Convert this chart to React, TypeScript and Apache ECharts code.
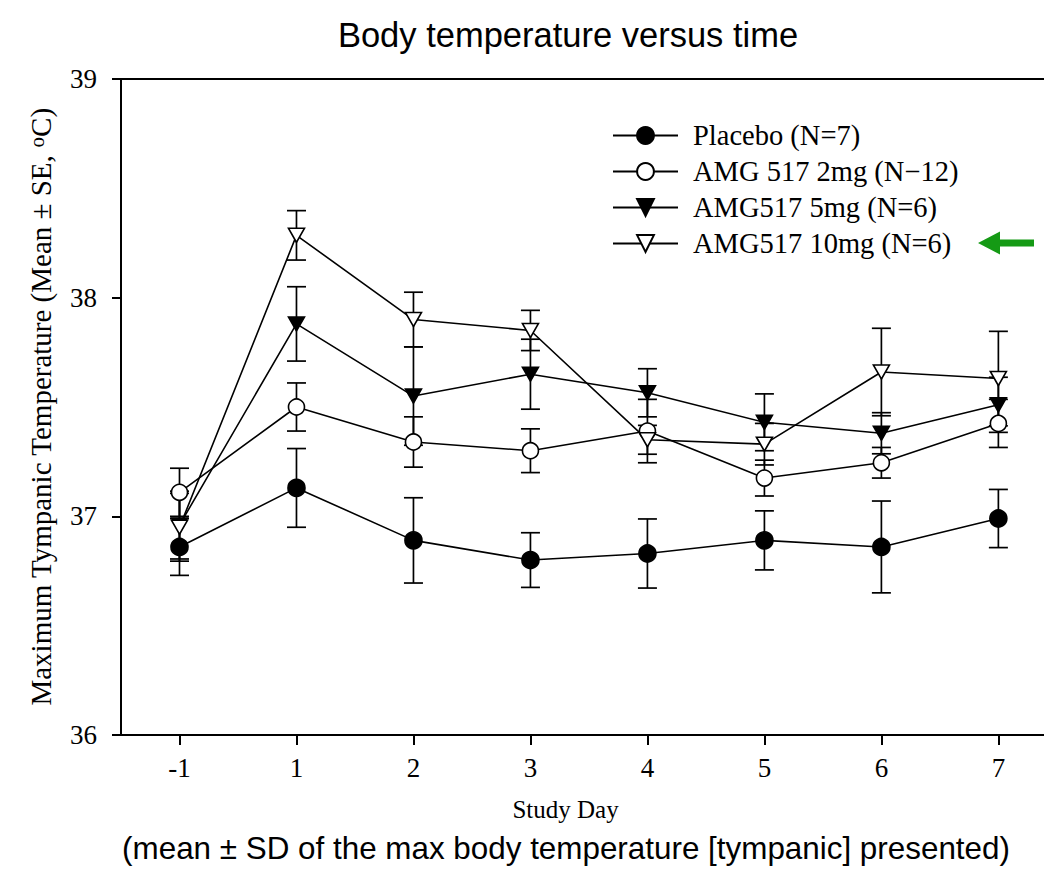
import React, { useEffect, useRef } from "react";
import * as echarts from "echarts";

const days = ["-1", "1", "2", "3", "4", "5", "6", "7"];
const yTicks = [36, 37, 38, 39];

const seriesNames = [
  "Placebo (N=7)",
  "AMG 517 2mg (N\u221212)",
  "AMG517 5mg (N=6)",
  "AMG517 10mg (N=6)",
];

const placebo = [36.86, 37.13, 36.89, 36.8, 36.83, 36.89, 36.86, 36.99];
const placeboSE = [0.13, 0.18, 0.195, 0.125, 0.158, 0.135, 0.21, 0.133];

const amg2 = [37.11, 37.5, 37.34, 37.3, 37.39, 37.175, 37.245, 37.425];
const amg2SE = [0.11, 0.11, 0.115, 0.1, 0.145, 0.082, 0.07, 0.11];

const amg5 = [36.96, 37.88, 37.55, 37.65, 37.565, 37.43, 37.38, 37.51];
const amg5SE = [0.155, 0.17, 0.225, 0.16, 0.11, 0.13, 0.094, 0.126];

const amg10 = [36.95, 38.285, 37.9, 37.85, 37.35, 37.33, 37.66, 37.63];
const amg10SE = [0.155, 0.113, 0.125, 0.092, 0.066, 0.095, 0.2, 0.216];

const SERIF = "'Liberation Serif', 'Times New Roman', serif";
const SANS = "'Liberation Sans', Arial, sans-serif";

export default function App() {
  const ref = useRef<HTMLDivElement>(null);

  useEffect(() => {
    if (!ref.current) return;
    const chart = echarts.init(ref.current, null, { renderer: "svg" });

    const means = [placebo, amg2, amg5, amg10];
    const ses = [placeboSE, amg2SE, amg5SE, amg10SE];
    const symbols = ["circle", "circle", "triangle", "triangle"];
    const fills = ["#000", "#fff", "#000", "#fff"];
    const rotates = [0, 0, 180, 180];
    const sizes: any[] = [17, 16, [16, 14], [16, 14]];

    const series: any[] = [];
    means.forEach((m, k) => {
      series.push({
        type: "custom",
        name: seriesNames[k] + " SE",
        xAxisIndex: 0,
        yAxisIndex: 0,
        data: m.map((v, i) => [i, v - ses[k][i], v + ses[k][i]]),
        encode: { x: 0, y: [1, 2] },
        silent: true,
        clip: false,
        renderItem: (params: any, api: any) => {
          const x = api.value(0);
          const lo = api.coord([x, api.value(1)]);
          const hi = api.coord([x, api.value(2)]);
          const w = 9.5;
          const st = { stroke: "#000", lineWidth: 1.7 };
          return {
            type: "group",
            children: [
              { type: "line", shape: { x1: lo[0], y1: lo[1], x2: hi[0], y2: hi[1] }, style: st },
              { type: "line", shape: { x1: lo[0] - w, y1: lo[1], x2: lo[0] + w, y2: lo[1] }, style: st },
              { type: "line", shape: { x1: hi[0] - w, y1: hi[1], x2: hi[0] + w, y2: hi[1] }, style: st },
            ],
          };
        },
      });
      series.push({
        type: "line",
        name: seriesNames[k],
        xAxisIndex: 0,
        yAxisIndex: 0,
        data: m.map((v, i) => [i, v]),
        symbol: symbols[k],
        symbolSize: sizes[k],
        symbolRotate: rotates[k],
        showAllSymbol: true,
        lineStyle: { color: "#000", width: 1.6 },
        itemStyle: { color: fills[k], borderColor: "#000", borderWidth: 1.6 },
        emphasis: { disabled: true },
      });
    });

    chart.setOption({
      animation: false,
      grid: { left: 121, right: 0, top: 79, bottom: 147, containLabel: false },
      legend: {
        data: seriesNames,
        orient: "vertical",
        left: 612,
        top: 121,
        padding: 0,
        itemWidth: 65,
        itemHeight: 21,
        itemGap: 7,
        selectedMode: false,
        textStyle: {
          fontFamily: SERIF,
          fontSize: 28.5,
          color: "#000",
          padding: [0, 0, 0, 10],
        },
      },
      xAxis: [
        {
          type: "value",
          min: -0.5,
          max: 7.39,
          name: "Study Day",
          nameLocation: "middle",
          nameGap: 62,
          nameTextStyle: { fontFamily: SERIF, fontSize: 25, color: "#000", padding: [0, 34, 0, 0] },
          axisLine: { show: true, onZero: false, lineStyle: { color: "#000", width: 2 } },
          axisTick: {
            show: true,
            length: 10,
            customValues: days.map((_, i) => i),
            lineStyle: { color: "#000", width: 2 },
          },
          axisLabel: {
            customValues: days.map((_, i) => i),
            formatter: (v: number) => days[Math.round(v)] ?? "",
            fontFamily: SERIF,
            fontSize: 27,
            color: "#000",
            margin: 19,
          },
          splitLine: { show: false },
        },
        {
          type: "value",
          position: "top",
          min: -0.5,
          max: 7.39,
          axisLine: { show: true, onZero: false, lineStyle: { color: "#000", width: 2 } },
          axisTick: { show: false },
          axisLabel: { show: false },
          splitLine: { show: false },
        },
      ],
      yAxis: {
        type: "value",
        min: 36,
        max: 39,
        interval: 1,
        name: "Maximum Tympanic Temperature (Mean \u00B1 SE, {sup|o}C)",
        nameLocation: "middle",
        nameGap: 66,
        nameTextStyle: {
          fontFamily: SERIF,
          fontSize: 29,
          color: "#000",
          rich: {
            sup: { fontFamily: SERIF, fontSize: 21, color: "#000", verticalAlign: "top", lineHeight: 18 },
          },
        },
        axisLine: { show: true, onZero: false, lineStyle: { color: "#000", width: 2 } },
        axisTick: { show: true, length: 9, lineStyle: { color: "#000", width: 2 } },
        axisLabel: {
          formatter: (v: number) => (yTicks.includes(v) ? String(v) : ""),
          fontFamily: SERIF,
          fontSize: 27,
          color: "#000",
          margin: 24,
        },
        splitLine: { show: false },
      },
      graphic: [
        {
          type: "text",
          x: 568,
          y: 35,
          style: {
            text: "Body temperature versus time",
            font: "34.5px " + SANS,
            fill: "#000",
            textAlign: "center",
            textVerticalAlign: "middle",
          },
        },
        {
          type: "text",
          x: 566,
          y: 848,
          style: {
            text: "(mean \u00B1 SD of the max body temperature [tympanic] presented)",
            font: "31.4px " + SANS,
            fill: "#000",
            textAlign: "center",
            textVerticalAlign: "middle",
          },
        },
        {
          type: "polygon",
          shape: {
            points: [
              [978, 243],
              [1000, 231.5],
              [1000, 239.5],
              [1034, 239.5],
              [1034, 246.5],
              [1000, 246.5],
              [1000, 254.5],
            ],
          },
          style: { fill: "#159a15" },
        },
      ],
      series,
    });

    return () => chart.dispose();
  }, []);

  return (
    <div
      ref={ref}
      style={{ position: "absolute", left: 0, top: 0, width: 1044, height: 882, background: "#fff" }}
    />
  );
}
